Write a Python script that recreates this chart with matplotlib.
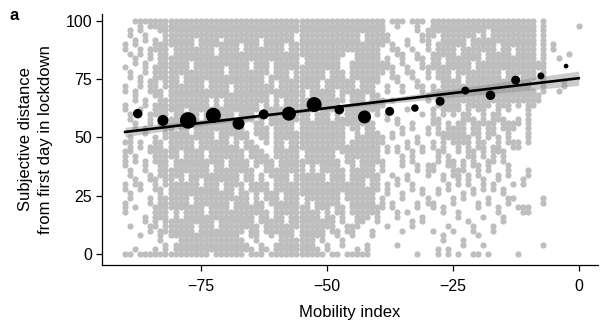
import matplotlib.pyplot as plt
import numpy as np

plt.rcParams['font.family'] = ['Liberation Sans', 'DejaVu Sans']

# binned means of subjective distance (bin centres on mobility index)
bin_x = [-87.5, -82.5, -77.5, -72.5, -67.5, -62.5, -57.5, -52.5, -47.5,
         -42.5, -37.5, -32.5, -27.5, -22.5, -17.5, -12.5, -7.5, -2.5]
bin_y = [60.2, 57.3, 57.3, 59.5, 55.9, 59.9, 60.2, 64.1, 61.9,
         58.8, 61.2, 62.6, 65.5, 70.1, 68.1, 74.6, 76.4, 80.6]
# marker diameter (px) ~ number of responses in the bin
bin_d = [9.5, 11, 16.5, 15, 12, 10, 14, 15, 9.5,
         13, 9, 7.5, 9, 8, 9.5, 9, 7, 4.7]

# linear fit and its confidence band
fit_x = [-90, 0]
fit_intercept = 75.4
fit_slope = 0.256
ci_centre = -55
ci_min = 0.7
ci_growth = 0.0545

# individual responses: vertical runs (lo, hi) of dots for each mobility value
runs = {
    -90: [(0, 0), (18, 22), (28, 30), (38, 44), (48, 48), (62, 64), (70, 72), (80, 80), (88, 90)],
    -89: [(0, 0), (12, 12), (24, 26), (34, 36), (44, 50), (58, 60), (76, 78), (86, 86), (94, 96)],
    -88: [(2, 2), (20, 20), (30, 32), (40, 42), (54, 56), (66, 70), (82, 84), (90, 92), (100, 100)],
    -87: [(0, 0), (8, 8), (28, 30), (46, 48), (62, 62), (72, 76), (86, 88), (96, 100)],
    -86: [(0, 0), (14, 16), (36, 40), (52, 54), (64, 66), (78, 82), (92, 94), (100, 100)],
    -85: [(0, 0), (10, 12), (22, 24), (32, 34), (44, 46), (56, 60), (70, 74), (84, 88), (98, 100)],
    -84: [(0, 2), (12, 20), (28, 32), (40, 50), (60, 64), (68, 80), (88, 92), (98, 100)],
    -83: [(0, 0), (6, 10), (16, 28), (34, 48), (56, 70), (76, 90), (96, 100)],
    -82: [(0, 4), (10, 24), (30, 44), (50, 66), (72, 100)],
    -81: [(0, 0), (8, 14), (20, 36), (42, 58), (62, 84), (90, 100)],
    -80: [(0, 4), (8, 30), (34, 52), (56, 100)],
    -79: [(0, 14), (20, 40), (46, 72), (78, 100)],
    -78: [(0, 30), (36, 60), (64, 100)],
    -77: [(0, 20), (26, 50), (56, 78), (84, 100)],
    -76: [(0, 8), (14, 44), (50, 88), (94, 100)],
    -75: [(0, 28), (34, 56), (62, 100)],
    -74: [(0, 16), (22, 40), (46, 70), (76, 100)],
    -73: [(2, 34), (40, 62), (68, 100)],
    -72: [(0, 10), (16, 48), (54, 84), (90, 100)],
    -71: [(0, 26), (32, 62), (68, 90), (94, 100)],
    -70: [(0, 36), (42, 76), (82, 100)],
    -69: [(0, 18), (24, 46), (52, 68), (74, 100)],
    -68: [(0, 24), (30, 56), (62, 100)],
    -67: [(0, 6), (10, 30), (36, 44), (50, 86), (92, 100)],
    -66: [(2, 4), (12, 26), (32, 40), (46, 52), (58, 100)],
    -65: [(0, 2), (8, 20), (28, 36), (42, 48), (58, 78), (84, 100)],
    -64: [(0, 0), (6, 12), (18, 30), (38, 46), (52, 56), (62, 100)],
    -63: [(0, 4), (14, 22), (28, 34), (40, 44), (50, 60), (66, 88), (94, 100)],
    -62: [(2, 2), (10, 18), (24, 30), (36, 42), (48, 54), (62, 72), (78, 100)],
    -61: [(0, 0), (8, 14), (22, 26), (34, 40), (56, 62), (70, 76), (84, 100)],
    -60: [(0, 4), (10, 36), (42, 70), (76, 100)],
    -59: [(0, 22), (28, 62), (68, 100)],
    -58: [(0, 12), (18, 44), (50, 86), (92, 100)],
    -57: [(0, 30), (36, 74), (80, 100)],
    -56: [(0, 6), (12, 52), (58, 90), (96, 100)],
    -55: [(0, 20), (26, 40), (46, 80), (86, 100)],
    -54: [(0, 34), (40, 66), (72, 100)],
    -53: [(0, 18), (24, 56), (62, 100)],
    -52: [(0, 2), (8, 34), (40, 60), (66, 100)],
    -51: [(0, 0), (6, 14), (20, 70), (76, 100)],
    -50: [(2, 4), (12, 30), (36, 74), (80, 100)],
    -49: [(0, 0), (10, 16), (22, 56), (62, 100)],
    -48: [(0, 0), (8, 10), (18, 40), (46, 66), (72, 100)],
    -47: [(4, 6), (14, 20), (28, 36), (44, 58), (66, 78), (86, 100)],
    -46: [(0, 0), (10, 12), (24, 30), (40, 46), (56, 62), (70, 74), (88, 100)],
    -45: [(0, 0), (8, 12), (18, 48), (54, 82), (88, 100)],
    -44: [(0, 2), (12, 36), (42, 70), (76, 100)],
    -43: [(0, 0), (14, 50), (56, 90), (96, 100)],
    -42: [(0, 4), (16, 28), (34, 64), (70, 100)],
    -41: [(8, 10), (18, 56), (62, 100)],
    -40: [(14, 20), (28, 34), (40, 52), (60, 68), (74, 100)],
    -39: [(20, 24), (36, 40), (48, 50), (64, 66), (78, 82), (90, 100)],
    -38: [(12, 12), (26, 30), (44, 46), (58, 60), (70, 72), (80, 84), (92, 94)],
    -37: [(20, 22), (34, 34), (50, 52), (66, 66), (76, 80), (88, 90), (100, 100)],
    -36: [(4, 4), (16, 18), (30, 32), (44, 46), (56, 58), (74, 76), (86, 88), (98, 100)],
    -35: [(10, 10), (24, 26), (38, 42), (52, 54), (70, 72), (82, 86), (100, 100)],
    -34: [(18, 18), (32, 34), (46, 48), (62, 62), (78, 80), (90, 92)],
    -33: [(12, 14), (28, 30), (40, 44), (54, 56), (76, 78), (88, 88), (100, 100)],
    -32: [(0, 0), (20, 22), (36, 38), (48, 50), (72, 74), (84, 86), (96, 100)],
    -31: [(14, 16), (26, 28), (44, 46), (60, 60), (70, 72), (80, 84), (92, 94), (100, 100)],
    -30: [(22, 24), (34, 38), (52, 54), (66, 68), (76, 80), (88, 96)],
    -29: [(10, 10), (20, 22), (36, 38), (46, 48), (56, 62), (70, 72), (80, 86), (94, 100)],
    -28: [(0, 2), (26, 28), (40, 44), (52, 58), (64, 70), (76, 90), (96, 100)],
    -27: [(6, 8), (18, 20), (32, 34), (44, 52), (60, 80), (86, 100)],
    -26: [(0, 2), (12, 12), (28, 30), (38, 42), (50, 56), (62, 100)],
    -25: [(10, 10), (22, 24), (34, 40), (48, 54), (60, 74), (80, 100)],
    -24: [(0, 0), (16, 18), (30, 36), (44, 56), (62, 84), (90, 100)],
    -23: [(4, 6), (24, 26), (36, 40), (48, 60), (66, 72), (78, 100)],
    -22: [(14, 14), (30, 34), (42, 50), (58, 88), (94, 100)],
    -21: [(0, 0), (10, 12), (26, 28), (38, 44), (52, 58), (64, 78), (84, 100)],
    -20: [(0, 0), (8, 8), (20, 22), (34, 38), (46, 56), (62, 92), (96, 100)],
    -19: [(4, 4), (16, 16), (28, 32), (42, 48), (56, 82), (88, 100)],
    -18: [(0, 0), (22, 24), (36, 40), (50, 56), (64, 92), (98, 100)],
    -17: [(10, 12), (28, 30), (40, 46), (52, 60), (66, 100)],
    -16: [(18, 20), (32, 34), (44, 50), (58, 86), (92, 100)],
    -15: [(14, 16), (26, 28), (40, 44), (54, 58), (64, 74), (80, 100)],
    -14: [(22, 24), (34, 38), (48, 56), (62, 100)],
    -13: [(24, 24), (30, 30), (46, 48), (54, 56), (66, 84), (90, 100)],
    -12: [(0, 0), (20, 20), (46, 48), (56, 58), (64, 72), (78, 100)],
    -11: [(18, 20), (30, 32), (66, 100)],
    -10: [(18, 20), (34, 36), (48, 60), (62, 100)],
    -9: [(64, 70), (76, 100)],
    -8: [(66, 68), (80, 82)],
    -7: [(4, 4), (22, 24), (70, 100)],
    -5: [(88, 90)],
    -4: [(70, 70), (84, 84)],
    -3: [(72, 74)],
    -2: [(86, 86)],
    0: [(98, 98)],
}

raw_x, raw_y = [], []
for mx, segs in runs.items():
    for lo, hi in segs:
        for yv in range(lo, hi + 1, 2):
            raw_x.append(mx)
            raw_y.append(yv)

fig = plt.figure(figsize=(6.01, 3.27), dpi=100)
ax = fig.add_axes([0.1697, 0.1896, 0.825, 0.768])

ax.scatter(raw_x, raw_y, s=20, color='#bebebe', linewidths=0, zorder=1)

xx = np.linspace(fit_x[0], fit_x[1], 100)
yy = fit_intercept + fit_slope * xx
half = np.sqrt(ci_min ** 2 + (ci_growth * (xx - ci_centre)) ** 2)
ax.fill_between(xx, yy - half, yy + half, color='#8c8c8c', alpha=0.45,
                linewidth=0, zorder=2)
ax.plot(xx, yy, color='black', lw=1.9, zorder=3)

ax.scatter(bin_x, bin_y, s=[(0.72 * d) ** 2 for d in bin_d], color='black',
           linewidths=0, zorder=4)

ax.set_xlim(-94.6, 3.8)
ax.set_ylim(-4.7, 103)
ax.set_xticks([-75, -50, -25, 0])
ax.set_xticklabels(['\u221275', '\u221250', '\u221225', '0'])
ax.set_yticks([0, 25, 50, 75, 100])
for side in ['top', 'right']:
    ax.spines[side].set_visible(False)
for side in ['left', 'bottom']:
    ax.spines[side].set_linewidth(0.9)
ax.tick_params(labelsize=11.5, length=4, width=0.9)
ax.tick_params(axis='x', pad=6)
ax.tick_params(axis='y', pad=3)
ax.set_xlabel('Mobility index', fontsize=12, labelpad=8)
ax.set_ylabel('Subjective distance\nfrom first day in lockdown', fontsize=12,
              labelpad=9, linespacing=1.45)

fig.text(0.016, 0.975, 'a', fontsize=12, fontweight='bold', va='top')

fig.savefig('out.png', dpi=100)
